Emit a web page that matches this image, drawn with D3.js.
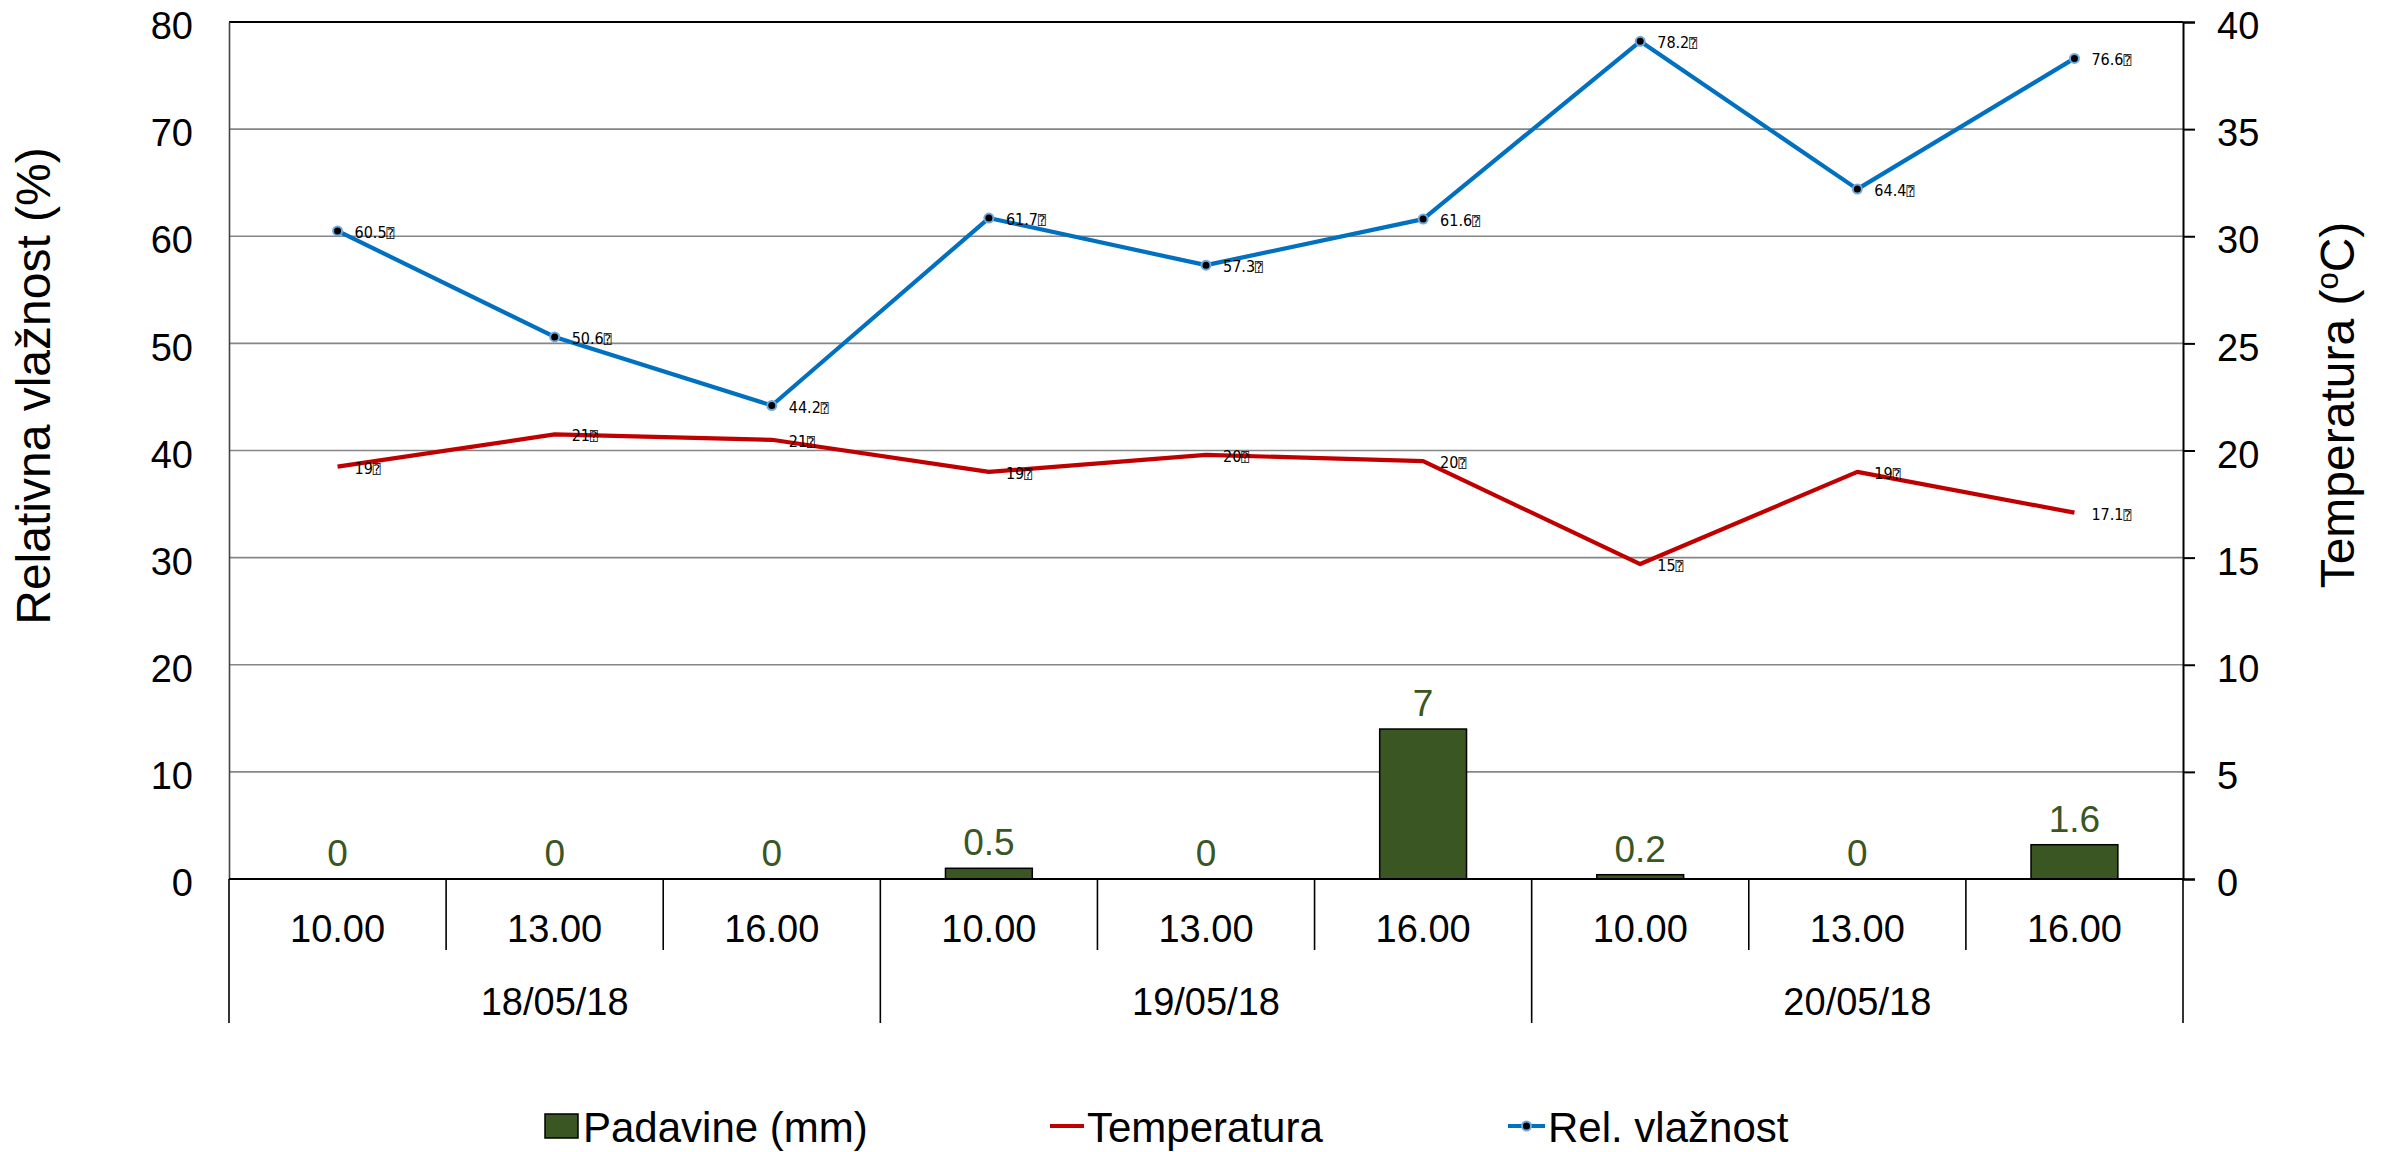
<!DOCTYPE html>
<html>
<head>
<meta charset="utf-8">
<script src="https://cdn.jsdelivr.net/npm/d3@7"></script>
<style>
html,body{margin:0;padding:0;background:#fff;}
svg{display:block;font-family:"Liberation Sans",Arial,sans-serif;}
</style>
</head>
<body>
<svg id="chart" width="2387" height="1152"></svg>
<script>
// ---- data ----
const hours = ["10.00","13.00","16.00","10.00","13.00","16.00","10.00","13.00","16.00"];
const days = ["18/05/18","19/05/18","20/05/18"];
const precipitation = [0, 0, 0, 0.5, 0, 7, 0.2, 0, 1.6];
const temperature = [19.25, 20.75, 20.5, 19.0, 19.8, 19.5, 14.7, 19.0, 17.1];
const temperatureLabels = ["19","21","21","19","20","20","15","19","17.1"];
const humidity = [60.5, 50.6, 44.2, 61.7, 57.3, 61.6, 78.2, 64.4, 76.6];
const humidityLabels = ["60.5","50.6","44.2","61.7","57.3","61.6","78.2","64.4","76.6"];
const leftTicks = [0,10,20,30,40,50,60,70,80];
const rightTicks = [0,5,10,15,20,25,30,35,40];
const legendNames = ["Padavine (mm)","Temperatura","Rel. vlažnost"];

// ---- layout ----
const L = 229, R = 2183, T = 22, B = 879;
const svg = d3.select("#chart");
const x = d3.scaleBand().domain(d3.range(hours.length)).range([L, R]).paddingInner(0).paddingOuter(0);
const yL = d3.scaleLinear().domain([0, 80]).range([B, T]);
const yR = d3.scaleLinear().domain([0, 40]).range([B, T]);
const cx = i => x(i) + x.bandwidth() / 2;

const barColor = "#3A5623", tempColor = "#C00000", humColor = "#0070C0";

// gridlines
svg.append("g").selectAll("line").data(leftTicks.filter(t => t > 0 && t < 80)).join("line")
  .attr("x1", L).attr("x2", R).attr("y1", d => yL(d)).attr("y2", d => yL(d))
  .attr("stroke", "#868686").attr("stroke-width", 1.6);
// top border
svg.append("line").attr("x1", L).attr("x2", R).attr("y1", yL(80)).attr("y2", yL(80))
  .attr("stroke", "#000").attr("stroke-width", 2);

// left axis
const gL = svg.append("g").attr("transform", `translate(${L},0)`)
  .call(d3.axisLeft(yL).tickValues(leftTicks).tickSize(0).tickPadding(36));
gL.select(".domain").attr("stroke", "#444").attr("stroke-width", 1.6);
gL.selectAll("text").attr("font-size", 38).attr("fill", "#000").attr("dy", "0.44em")
  .attr("font-family", "Liberation Sans, Arial, sans-serif");

// right axis
const gR = svg.append("g").attr("transform", `translate(${R},0)`)
  .call(d3.axisRight(yR).tickValues(rightTicks).tickSize(12).tickPadding(22));
gR.select(".domain").attr("stroke", "#000").attr("stroke-width", 2);
gR.selectAll(".tick line").attr("stroke", "#000").attr("stroke-width", 2);
gR.selectAll("text").attr("font-size", 38).attr("fill", "#000").attr("dy", "0.44em")
  .attr("font-family", "Liberation Sans, Arial, sans-serif");

// bars (right axis)
const bw = x.bandwidth() * 0.4;
svg.append("g").selectAll("rect").data(precipitation).join("rect")
  .attr("x", (d, i) => cx(i) - bw / 2).attr("width", bw)
  .attr("y", d => yR(d)).attr("height", d => B - yR(d))
  .attr("fill", barColor).attr("stroke", "#000").attr("stroke-width", 1.5);
svg.append("g").selectAll("text").data(precipitation).join("text")
  .attr("x", (d, i) => cx(i)).attr("y", d => yR(d) - 13)
  .attr("text-anchor", "middle").attr("font-size", 37).attr("fill", barColor)
  .text(d => d);

// x axis line and separators
svg.append("line").attr("x1", L).attr("x2", R).attr("y1", B).attr("y2", B)
  .attr("stroke", "#000").attr("stroke-width", 2.2);
const seps = d3.range(hours.length + 1);
svg.append("g").selectAll("line").data(seps).join("line")
  .attr("x1", i => i < hours.length ? x(i) : R).attr("x2", i => i < hours.length ? x(i) : R)
  .attr("y1", B).attr("y2", i => i % 3 === 0 ? 1023 : 950)
  .attr("stroke", "#000").attr("stroke-width", 1.6);
svg.append("g").selectAll("text").data(hours).join("text")
  .attr("x", (d, i) => cx(i)).attr("y", 942).attr("text-anchor", "middle")
  .attr("font-size", 38).attr("fill", "#000").text(d => d);
svg.append("g").selectAll("text").data(days).join("text")
  .attr("x", (d, i) => (x(i * 3) + x(i * 3 + 2) + x.bandwidth()) / 2).attr("y", 1015)
  .attr("text-anchor", "middle").attr("font-size", 38).attr("fill", "#000").text(d => d);

// temperature line (right axis)
svg.append("path").datum(temperature)
  .attr("d", d3.line().x((d, i) => cx(i)).y(d => yR(d)))
  .attr("fill", "none").attr("stroke", tempColor).attr("stroke-width", 4.2).attr("stroke-linejoin", "round");
// humidity line (left axis)
svg.append("path").datum(humidity)
  .attr("d", d3.line().x((d, i) => cx(i)).y(d => yL(d)))
  .attr("fill", "none").attr("stroke", humColor).attr("stroke-width", 4.2).attr("stroke-linejoin", "round");
svg.append("g").selectAll("circle").data(humidity).join("circle")
  .attr("cx", (d, i) => cx(i)).attr("cy", d => yL(d)).attr("r", 4.5)
  .attr("fill", "#000").attr("stroke", "#6fa8dc").attr("stroke-width", 2);

// data labels
function addLabels(vals, labels, scale) {
  const t = svg.append("g").selectAll("text").data(vals).join("text")
    .attr("x", (d, i) => cx(i) + 17).attr("y", d => scale(d) + 7)
    .attr("font-size", 16).attr("fill", "#000")
    .attr("font-family", "DejaVu Sans Condensed, DejaVu Sans, sans-serif");
  t.append("tspan").text((d, i) => labels[i]);
  t.append("tspan").attr("font-family", "DejaVu Sans Mono, DejaVu Sans, sans-serif").attr("font-size", 13).text("\u2370");
}
addLabels(humidity, humidityLabels, yL);
addLabels(temperature, temperatureLabels, yR);

// axis titles
svg.append("text").attr("transform", "translate(50,386) rotate(-90)")
  .attr("text-anchor", "middle").attr("font-size", 48).attr("fill", "#000")
  .text("Relativna vlažnost (%)");
const rt = svg.append("text").attr("transform", "translate(2354,405) rotate(-90)")
  .attr("text-anchor", "middle").attr("font-size", 48).attr("fill", "#000");
rt.append("tspan").text("Temperatura (");
rt.append("tspan").attr("font-size", 31).attr("dy", -16).text("o");
rt.append("tspan").attr("dy", 16).text("C)");

// legend
const lg = svg.append("g").attr("font-size", 42).attr("fill", "#000");
lg.append("rect").attr("x", 545).attr("y", 1114).attr("width", 33).attr("height", 24)
  .attr("fill", barColor).attr("stroke", "#000").attr("stroke-width", 1.5);
lg.append("text").attr("x", 583).attr("y", 1142).text(legendNames[0]);
lg.append("line").attr("x1", 1050).attr("x2", 1084).attr("y1", 1126).attr("y2", 1126)
  .attr("stroke", tempColor).attr("stroke-width", 4);
lg.append("text").attr("x", 1087).attr("y", 1142).text(legendNames[1]);
lg.append("line").attr("x1", 1508).attr("x2", 1545).attr("y1", 1126).attr("y2", 1126)
  .attr("stroke", humColor).attr("stroke-width", 4);
lg.append("circle").attr("cx", 1526.5).attr("cy", 1126).attr("r", 4.5)
  .attr("fill", "#000").attr("stroke", "#6fa8dc").attr("stroke-width", 2);
lg.append("text").attr("x", 1548).attr("y", 1142).text(legendNames[2]);
</script>
</body>
</html>
